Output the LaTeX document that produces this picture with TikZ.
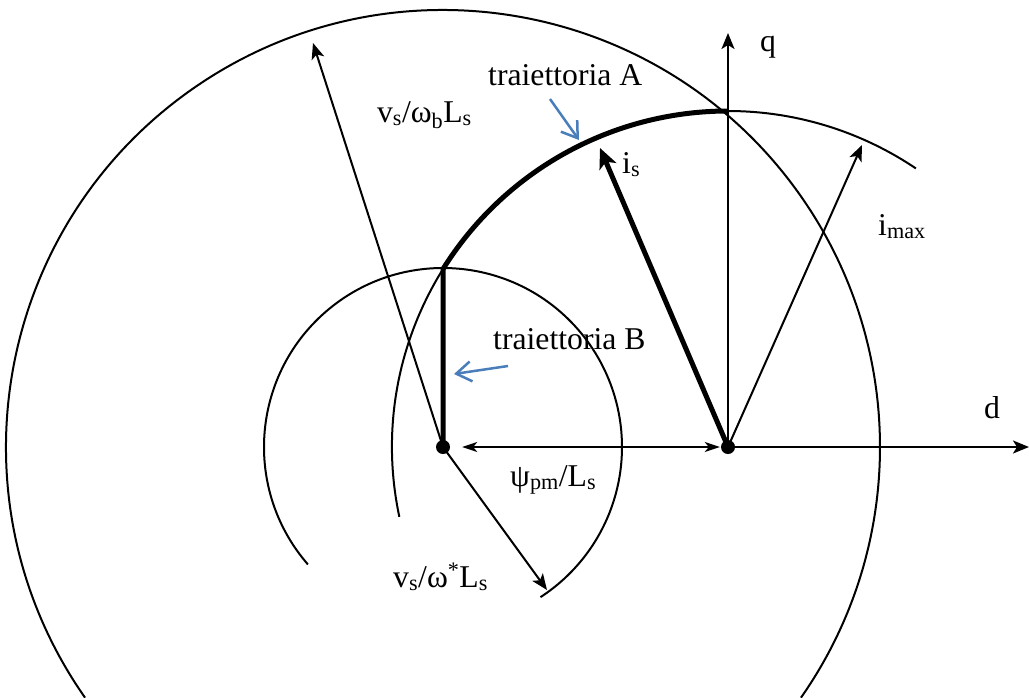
\documentclass[tikz,border=0pt]{standalone}
\usepackage{fontspec}
\setmainfont{Liberation Serif}
\usetikzlibrary{arrows.meta}
\definecolor{blu}{HTML}{4A7EBB}
\begin{document}
\begin{tikzpicture}[x=1pt,y=1pt,
  dot/.style={circle,fill=black,inner sep=0pt,minimum size=14pt},
  ln/.style={line width=2pt},
  thickln/.style={line width=5pt},
  arr/.style={ln,-{Stealth[length=16pt,width=13pt,inset=4pt]}},
  thickarr/.style={thickln,-{Stealth[length=20pt,width=18pt,inset=5pt]}},
  darr/.style={ln,{Stealth[length=15pt,width=10pt,inset=4pt]}-{Stealth[length=15pt,width=10pt,inset=4pt]}},
  bluearr/.style={line width=2.5pt,blu,-{Straight Barb[length=15pt,width=20pt,line width=2.5pt]}},
  lbl/.style={inner sep=0pt,font=\fontsize{31.7}{38}\selectfont}]
\useasboundingbox (0,-697) rectangle (1029,0);

% centres
\node[dot] (C) at (443,-447) {};
\node[dot] (O) at (728,-447) {};
\coordinate (qtip) at (728,-33);
\coordinate (dtip) at (1029,-447);
\coordinate (vb) at (313,-43);
\coordinate (vstar) at (547,-590);
\coordinate (is) at (600,-148);
\coordinate (im) at (862,-145);
\path (O.center) ++(148:336) coordinate (P);
\coordinate (bA1) at (550,-99);
\coordinate (bA2) at (579,-140);
\coordinate (bB1) at (508,-366);
\coordinate (bB2) at (454,-374);

% circles
\draw[ln] (C.center) ++(215:437) arc[start angle=215,end angle=-35,radius=437];
\draw[ln] (C.center) ++(221:179) arc[start angle=221,end angle=-57,radius=179];
\draw[ln] (O.center) ++(192:336) arc[start angle=192,end angle=56,radius=336];

% trajectories
\draw[thickln] (P) arc[start angle=148,end angle=90,radius=336];
\draw[thickln] (C.center) -- (P);

% axes
\draw[arr] (O.center) -- (qtip);
\draw[arr] (O.center) -- (dtip);

% vectors
\draw[arr] (C.center) -- (vb);
\draw[arr] (C.center) -- (vstar);
\draw[arr] (O.center) -- (im);
\draw[thickarr] (O.center) -- (is);
\draw[darr,shorten <=12pt,shorten >=1pt] (C) -- (O);

% blue pointers
\draw[bluearr] (bA1) -- (bA2);
\draw[bluearr] (bB1) -- (bB2);

% labels
\node[lbl,anchor=base west] (lq) at (760,-51) {q};
\node[lbl,anchor=base west] (ld) at (984,-418) {d};
\node[lbl,anchor=base west] (lA) at (488,-85) {traiettoria A};
\node[lbl,anchor=base east] (lvb) at (472,-122) {v\textsubscript{s}/ω\textsubscript{b}L\textsubscript{s}};
\node[lbl,anchor=base west] (lis) at (622,-173) {i\textsubscript{s}};
\node[lbl,anchor=base west] (lim) at (878,-235) {i\textsubscript{max}};
\node[lbl,anchor=base west] (lB) at (493,-349) {traiettoria B};
\node[lbl,anchor=base west] (lpsi) at (510,-486) {ψ\textsubscript{pm}/L\textsubscript{s}};
\node[lbl,anchor=base west] (lvs) at (393,-587) {v\textsubscript{s}/ω\textsuperscript{*}L\textsubscript{s}};
\end{tikzpicture}
\end{document}
